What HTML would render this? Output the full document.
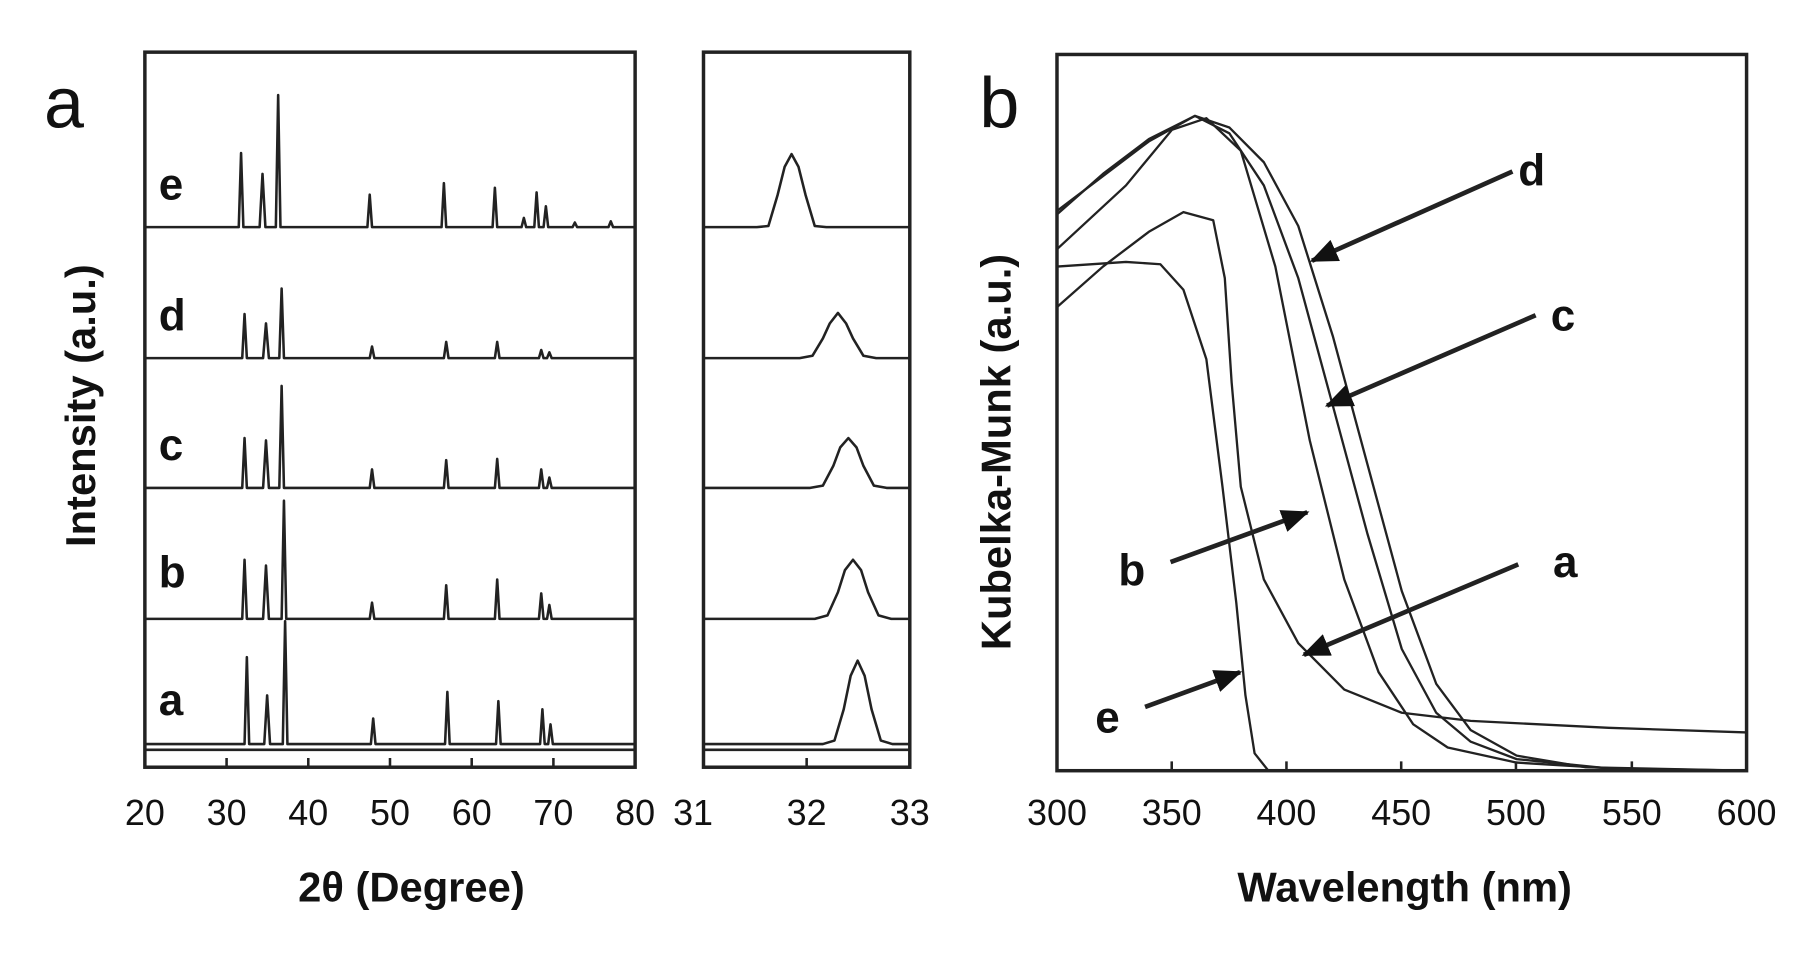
<!DOCTYPE html>
<html><head><meta charset="utf-8"><style>
html,body{margin:0;padding:0;background:#fff;width:1808px;height:953px;overflow:hidden}
svg{display:block}
text{font-family:"Liberation Sans",sans-serif;fill:#111}
.t{font-size:31px}
.b{font-weight:bold}
</style></head><body>
<svg width="1808" height="953" viewBox="0 0 1560 822.3" preserveAspectRatio="none">
<defs><marker id="ar" markerWidth="6" markerHeight="5" refX="5.5" refY="2.5" orient="auto" markerUnits="strokeWidth"><path d="M0,0L6,2.5L0,5Z" fill="#111"/></marker></defs>
<g fill="none" stroke="#222" stroke-width="3">
<rect x="125" y="45" width="423" height="617"/>
<rect x="607" y="45" width="178" height="617"/>
<rect x="912" y="47" width="595" height="618"/>
</g>
<g fill="none" stroke="#222" stroke-width="2.2" stroke-linejoin="round">
<path d="M125,196L206,196L208,132L210,196L224,196L226.5,150L229,196L238,196L240,82L242,196L317,196L319,168L321,196L381,196L383,158L385,196L425,196L427,162L429,196L450,196L452,188L454,196L461,196L463,166L465,196L469,196L471,178L473,196L494,196L496,192L498,196L525,196L527,191L529,196L548,196"/>
<path d="M125,309L209,309L211,271L213,309L227,309L229.5,279L232,309L241,309L243,249L245,309L319,309L321,299L323,309L383,309L385,295L387,309L427,309L429,295L431,309L465,309L467,302L469,309L472,309L474,304L476,309L548,309"/>
<path d="M125,421L209,421L211,378L213,421L227,421L229.5,380L232,421L241,421L243,333L245,421L319,421L321,405L323,421L383,421L385,397L387,421L427,421L429,396L431,421L465,421L467,405L469,421L472,421L474,412L476,421L548,421"/>
<path d="M125,534L209,534L211,483L213,534L227,534L229.5,488L232,534L243,534L245,432L247,534L319,534L321,520L323,534L383,534L385,505L387,534L427,534L429,500L431,534L465,534L467,512L469,534L472,534L474,522L476,534L548,534"/>
<path d="M125,642L211,642L213,567L215,642L228,642L230.5,600L233,642L244,642L246,536L248,642L320,642L322,620L324,642L384,642L386,597L388,642L428,642L430,605L432,642L466,642L468,612L470,642L473,642L475,625L477,642L548,642"/>
<path d="M125,647L548,647"/>
<path d="M607,196L653,196L663,195L671,168L677,144L683,133L689,144L695,168L703,195L713,196L785,196"/>
<path d="M607,309L690,309L701,307L710,292L716,279L723,270L730,279L736,292L745,307L756,309L785,309"/>
<path d="M607,421L699,421L710,419L719,402L725,386L732,378L739,386L745,402L754,419L765,421L785,421"/>
<path d="M607,534L703,534L714,531L723,511L729,492L736,483L743,492L749,511L758,531L769,534L785,534"/>
<path d="M607,642L710,642L720,639L728,612L734,583L740,570L746,583L752,612L760,639L770,642L785,642"/>
<path d="M607,647L785,647"/>
<path d="M195.5,662v-8M266,662v-8M336.5,662v-8M407,662v-8M477.5,662v-8M696,662v-8M1011,665v-8M1110,665v-8M1209,665v-8M1308,665v-8M1408,665v-8"/>
<g stroke-width="2">
<polyline points="912,185 951.7,150 991.3,120 1031,100 1060.7,110 1090.5,140 1120.2,195 1150,290 1179.7,400 1209.5,510 1239.2,590 1269,630 1308.6,652 1368.1,662 1507,665"/>
<polyline points="912,182 991.3,122 1031,100 1060.7,115 1090.5,160 1120.2,240 1150,350 1179.7,460 1209.5,560 1239.2,615 1269,640 1308.6,655 1388,663 1507,665"/>
<polyline points="912,215 971.5,160 1011.2,112 1040.9,102 1070.6,130 1100.4,230 1130.1,380 1159.9,500 1189.5,580 1219.4,625 1249.1,645 1308.6,658 1407.8,664 1507,665"/>
<polyline points="912,265 951.7,230 991.3,200 1021.1,183 1046.8,190 1056.8,240 1062.7,330 1070.6,420 1090.5,500 1120.2,555 1159.9,595 1209.5,615 1269,622 1388,628 1507,632"/>
<polyline points="912,230 971.5,226 1001.2,228 1021.1,250 1040.9,310 1054.8,420 1066.7,520 1074.6,600 1082.5,650 1094.4,665 1507,665"/>
</g>
<g stroke-width="4" marker-end="url(#ar)">
<path d="M1305,148L1132,225"/><path d="M1325,272L1145,350"/><path d="M1310,487L1125,565"/><path d="M1010,485L1128,442"/><path d="M988,610L1070,580"/>
</g>
</g>
<text x="38" y="110" style="font-size:62px">a</text>
<text x="845" y="110" style="font-size:62px">b</text>
<g class="b" style="font-size:38px">
<text x="137" y="172">e</text><text x="137" y="285">d</text><text x="137" y="397">c</text><text x="137" y="507">b</text><text x="137" y="617">a</text>
<text x="1310" y="160">d</text><text x="1338" y="285">c</text><text x="1340" y="498">a</text><text x="965" y="505">b</text><text x="945" y="632">e</text>
</g>
<g class="t" text-anchor="middle">
<text x="125" y="712">20</text><text x="195.5" y="712">30</text><text x="266" y="712">40</text><text x="336.5" y="712">50</text><text x="407" y="712">60</text><text x="477.5" y="712">70</text><text x="548" y="712">80</text>
<text x="598" y="712">31</text><text x="696" y="712">32</text><text x="785" y="712">33</text>
<text x="912" y="712">300</text><text x="1011" y="712">350</text><text x="1110" y="712">400</text><text x="1209" y="712">450</text><text x="1308" y="712">500</text><text x="1408" y="712">550</text><text x="1507" y="712">600</text>
</g>
<text x="355" y="778" text-anchor="middle" class="b" style="font-size:36px">2θ (Degree)</text>
<text x="1212" y="778" text-anchor="middle" class="b" style="font-size:36px">Wavelength (nm)</text>
<text transform="translate(82,350) rotate(-90)" text-anchor="middle" class="b" style="font-size:36px">Intensity (a.u.)</text>
<text transform="translate(872,390) rotate(-90)" text-anchor="middle" class="b" style="font-size:36px">Kubelka-Munk (a.u.)</text>
</svg>
</body></html>
